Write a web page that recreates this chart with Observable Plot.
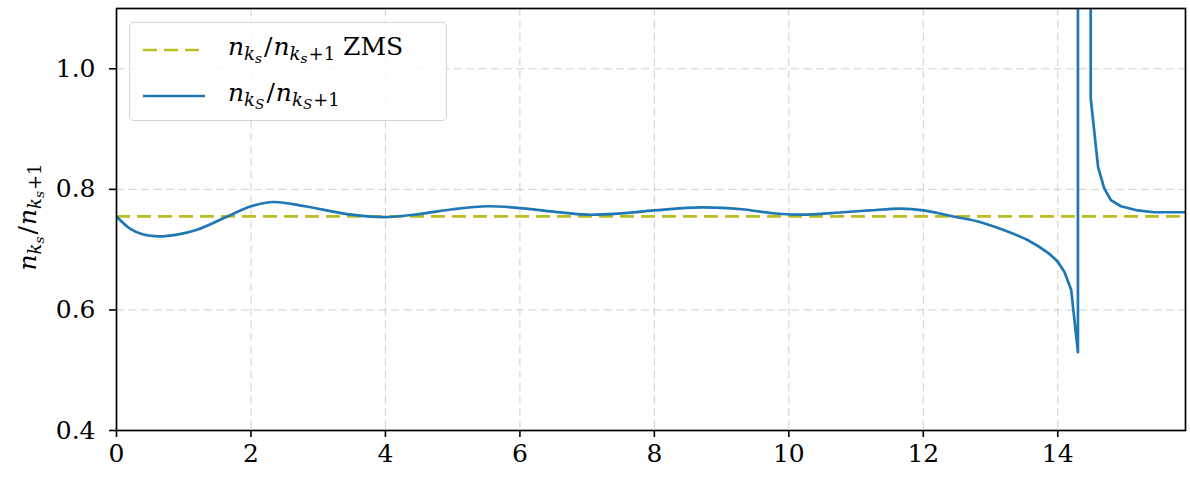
<!DOCTYPE html>
<html>
<head>
<meta charset="utf-8">
<script src="https://cdn.jsdelivr.net/npm/d3@7"></script>
<script src="https://cdn.jsdelivr.net/npm/@observablehq/plot@0.6"></script>
<style>
  html, body { margin: 0; padding: 0; background: white; }
  #wrap { position: relative; width: 1190px; height: 477px; font-family: 'DejaVu Serif'; }
  .m { font-style: italic; }
  .r { font-style: normal; }
  .s1 { font-size: 0.72em; position: relative; top: 0.3em; }
  .s2 { font-size: 0.76em; position: relative; top: 0.22em; margin-right: 1px; }
  .sl { margin: 0 1px; }
  #legend { position: absolute; left: 129px; top: 22px; width: 318px; height: 99px; box-sizing: border-box;
    border: 1.3px solid #d4d4d4; border-radius: 5px; background: rgba(255,255,255,0.8); }
  .row { position: absolute; left: 0; height: 40px; width: 100%; }
  .swatch { position: absolute; left: 12px; top: 18px; }
  .lbl { position: absolute; left: 98px; top: 3px; font-size: 25px; line-height: 30px; white-space: nowrap; }
  #ylab { position: absolute; left: 29px; top: 217px; transform: translate(-50%, -50%) rotate(-90deg); font-size: 25px; line-height: 30px; white-space: nowrap; }
</style>
</head>
<body>
<div id="wrap">
  <div id="legend">
    <div class="row" style="top:6px">
      <svg class="swatch" width="64" height="6"><line x1="1" x2="63" y1="3" y2="3" stroke="#bcbd22" stroke-width="2.7" stroke-dasharray="14,7"/></svg>
      <div class="lbl"><span class="m">n<span class="s1">k<span class="s2">s</span></span></span><span class="sl">/</span><span class="m">n<span class="s1">k<span class="s2">s</span><span class="r">+1</span></span></span> ZMS</div>
    </div>
    <div class="row" style="top:52px">
      <svg class="swatch" width="64" height="6"><line x1="1" x2="63" y1="3" y2="3" stroke="#1f77b4" stroke-width="2.7"/></svg>
      <div class="lbl"><span class="m">n<span class="s1">k<span class="s2">S</span></span></span><span class="sl">/</span><span class="m">n<span class="s1">k<span class="s2">S</span><span class="r">+1</span></span></span></div>
    </div>
  </div>
  <div id="ylab"><span class="m">n<span class="s1">k<span class="s2">s</span></span></span><span class="sl">/</span><span class="m">n<span class="s1">k<span class="s2">s</span><span class="r">+1</span></span></span></div>
</div>
<script>
// Data
const xTicks = [0, 2, 4, 6, 8, 10, 12, 14];
const yTicks = [0.4, 0.6, 0.8, 1.0];
const zms = 0.7553;
const sX = [0, 0.2, 0.4, 0.63, 0.9, 1.2, 1.65, 2.0, 2.34, 2.8, 3.43, 3.98, 4.5, 5.0, 5.52, 6.0, 6.5, 7.0, 7.5, 8.0, 8.7, 9.3, 9.8, 10.28, 10.8, 11.2, 11.67, 12.0, 12.45, 12.8, 13.06, 13.3, 13.55, 13.85, 14.0,
            14.1, 14.2, 14.3, 14.3, 14.49, 14.49, 14.6, 14.69, 14.79, 14.94, 15.19, 15.43, 15.9];
const sY = [0.755, 0.735, 0.725, 0.722, 0.725, 0.733, 0.755, 0.772, 0.779, 0.772, 0.759, 0.754, 0.759, 0.767, 0.772, 0.769, 0.763, 0.758, 0.760, 0.765, 0.770, 0.767, 0.760, 0.758, 0.762, 0.765, 0.768, 0.765, 0.755, 0.747, 0.738, 0.728, 0.716, 0.695, 0.680,
            0.663, 0.633, 0.530, 2.0, 2.0, 0.951, 0.837, 0.802, 0.782, 0.772, 0.765, 0.762, 0.762];

const pts = sX.map((x, i) => ({x, y: sY[i], i}));
const smooth = pts.filter(d => d.x <= 14.0);
const sharp = pts.filter(d => d.x >= 14.0);

const blue = "#1f77b4", olive = "#bcbd22";
const gridStyle = {stroke: "#b0b0b0", strokeOpacity: 0.6, strokeWidth: 1, strokeDasharray: "8,4.5"};

const chart = Plot.plot({
  width: 1190, height: 477,
  marginLeft: 116, marginRight: 5, marginTop: 8, marginBottom: 47,
  style: {fontFamily: "DejaVu Serif", fontSize: "25px", color: "black", background: "white"},
  x: {domain: [0, 15.9]},
  y: {domain: [0.4, 1.1]},
  marks: [
    Plot.gridX(xTicks, gridStyle),
    Plot.gridY(yTicks, gridStyle),
    Plot.ruleY([zms], {stroke: olive, strokeWidth: 2.7, strokeDasharray: "14,7"}),
    Plot.line(smooth, {x: "x", y: "y", stroke: blue, strokeWidth: 2.7, curve: "catmull-rom", clip: true}),
    Plot.line(sharp, {x: "x", y: "y", stroke: blue, strokeWidth: 2.7, curve: "linear", clip: true}),
    Plot.frame({stroke: "black", strokeWidth: 1.7}),
    Plot.axisX(xTicks, {tickSize: 7, tickPadding: 7, strokeWidth: 1.6, tickFormat: d => String(d), label: null, fontSize: 25}),
    Plot.axisY(yTicks, {tickSize: 7, tickPadding: 14, strokeWidth: 1.6, tickFormat: d => d.toFixed(1), label: null, fontSize: 25})
  ]
});
document.getElementById("wrap").prepend(chart);
</script>
</body>
</html>
